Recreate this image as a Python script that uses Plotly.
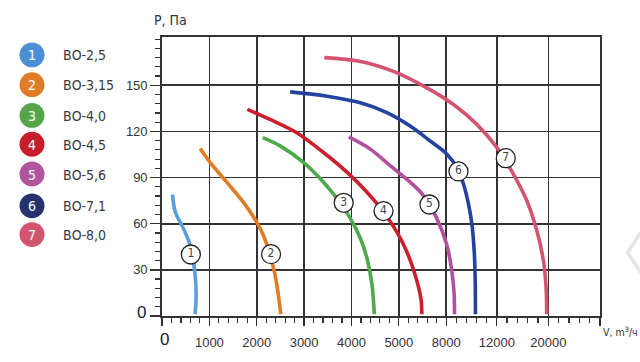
import numpy as np
import plotly.graph_objects as go

# ---------------- data ----------------
X_TICK_VALUES = [0, 1000, 2000, 3000, 4000, 5000, 8000, 12000, 20000]
X_TICK_LABELS = ["", "1000", "2000", "3000", "4000", "5000", "8000", "12000", "20000"]
Y_TICK_VALUES = [0, 30, 60, 90, 120, 150]
Y_TICK_LABELS = ["", "30", "60", "90", "120", "150"]

NAMES = ["ВО-2,5", "ВО-3,15", "ВО-4,0", "ВО-4,5", "ВО-5,6", "ВО-7,1", "ВО-8,0"]

V1 = [223, 279, 454, 595, 664, 706, 721, 700]
P1 = [79, 67.8, 56.8, 46, 35.3, 24.5, 13.8, 1.2]

V2 = [805, 1015, 1367, 1717, 2000, 2140, 2281, 2387, 2456, 2507]
P2 = [108.9, 99.9, 87, 74, 61, 52.5, 39.6, 26.7, 13.8, 1.2]

V3 = [2127, 2493, 2985, 3411, 3696, 3979, 4189, 4329, 4434, 4482]
P3 = [116, 110.6, 99.9, 87, 76.2, 63.3, 50.4, 37.4, 20.2, 1.2]

V4 = [1802, 2281, 2844, 3411, 3909, 4329, 4677, 4958, 5507, 6034, 6395, 6459]
P4 = [134.3, 127.8, 119.2, 106.3, 93.4, 80.5, 67.6, 54.7, 41.8, 26.7, 11.6, 1.2]

V5 = [3943, 4398, 4818, 5717, 6561, 7410, 8055, 8450, 8631, 8655]
P5 = [116.4, 108.5, 97.7, 87, 78.3, 63.3, 46, 28.9, 13.8, 1.2]

V6 = [2704, 3483, 4189, 4748, 5717, 6985, 8055, 8844, 9365, 9759, 10028, 10209, 10288, 10312]
P6 = [145.7, 142.9, 138.6, 132.2, 123.5, 113.8, 105.2, 96.6, 85.8, 72.9, 60, 42.8, 25.6, 1.2]

V7 = [3426, 4189, 4887, 6776, 8576, 10422, 12000, 14574, 16651, 18202, 19225, 19643, 19752]
P7 = [168, 165.5, 159, 148.3, 137.5, 124.6, 109.6, 92.3, 75.1, 55.7, 36.3, 19.2, 1.2]

LABEL_V = [609, 2302, 3836, 4677, 6941, 8970, 13395]
LABEL_P = [40, 40.2, 73.6, 68.2, 72.5, 94, 102.6]

# ---------------- styles ----------------
LINE_COLORS = ["#5a9fdc", "#e07c24", "#4ea94a", "#cc1f2d", "#b24f9e", "#2442a0", "#d4546f"]
DOT_COLORS = ["#4d8fd6", "#e07b27", "#56a54a", "#c81e2b", "#b2549d", "#26336f", "#d2556f"]

# axis tick positions (the source axis is piecewise, cells nearly equal width)
X_TICK_POS = [0, 1, 2, 3, 4, 5, 6, 7.068, 8.156]
X_END = 9.247

def vpos(v):
    return np.interp(np.asarray(v, float), X_TICK_VALUES, X_TICK_POS)

W, H = 640, 362
ML, MR, MT, MB = 162, 40, 37, 44
PW, PH = W - ML - MR, H - MT - MB

def px(x):
    return (x - ML) / PW

def py(y):
    return (H - MB - y) / PH

GRID = "#333333"
FONT_N = "Liberation Sans Narrow, DejaVu Sans Condensed, Arial Narrow, sans-serif"
FONT_T = "Liberation Sans, Arial, sans-serif"

fig = go.Figure()

series = [(V1, P1), (V2, P2), (V3, P3), (V4, P4), (V5, P5), (V6, P6), (V7, P7)]
for i, (v, p) in enumerate(series):
    fig.add_trace(go.Scatter(
        x=vpos(v), y=p, mode="lines",
        line=dict(color=LINE_COLORS[i], width=3.6, shape="spline", smoothing=1.0),
        hoverinfo="skip", showlegend=False))

fig.add_trace(go.Scatter(
    x=vpos(LABEL_V), y=LABEL_P, mode="markers+text",
    marker=dict(size=19, color="white", line=dict(color="#222222", width=1.3)),
    text=[str(i + 1) for i in range(7)], textposition="middle center",
    textfont=dict(family=FONT_N, size=12, color="#444444"),
    hoverinfo="skip", showlegend=False))

minor_x = []
cells = X_TICK_POS + [X_END]
for a, b in zip(cells[:-1], cells[1:]):
    for k in range(1, 5):
        minor_x.append(a + (b - a) * k / 5)

shapes = []
annotations = []
LEG_Y = [55, 85, 116, 145, 175, 207, 236]
R = 12.5
for i, yy in enumerate(LEG_Y):
    shapes.append(dict(type="circle", xref="paper", yref="paper",
                       x0=px(32 - R), x1=px(32 + R), y0=py(yy + R), y1=py(yy - R),
                       fillcolor=DOT_COLORS[i], line=dict(width=0), layer="above"))
    annotations.append(dict(xref="paper", yref="paper", x=px(32), y=py(yy + 0.5),
                            text=str(i + 1), showarrow=False, xanchor="center", yanchor="middle",
                            font=dict(family=FONT_N, size=14, color="white")))
    annotations.append(dict(xref="paper", yref="paper", x=px(61), y=py(yy + 0.5),
                            text=NAMES[i], showarrow=False, xanchor="left", yanchor="middle",
                            font=dict(family=FONT_N, size=14, color="#3a3a3a")))

# zero labels
annotations.append(dict(xref="paper", yref="paper", x=px(141), y=py(314),
                        text="0", showarrow=False, xanchor="center", yanchor="middle",
                        font=dict(family=FONT_T, size=17, color="#222222")))
annotations.append(dict(xref="paper", yref="paper", x=px(164), y=py(342),
                        text="0", showarrow=False, xanchor="center", yanchor="middle",
                        font=dict(family=FONT_T, size=17, color="#222222")))
# axis titles
annotations.append(dict(xref="paper", yref="paper", x=px(152), y=py(20),
                        text="P, Па", showarrow=False, xanchor="left", yanchor="middle",
                        font=dict(family=FONT_N, size=14, color="#333333")))
annotations.append(dict(xref="paper", yref="paper", x=px(601), y=py(334),
                        text="V, m<sup>3</sup>/ч", showarrow=False, xanchor="left", yanchor="middle",
                        font=dict(family=FONT_N, size=10.5, color="#333333")))

# faint chevron at the right edge
shapes.append(dict(type="path", xref="paper", yref="paper",
                   path="M {} {} L {} {} L {} {}".format(px(642), py(232), px(627.5), py(254),
                                                           px(642), py(276)),
                   line=dict(color="#e4e4e4", width=3.5)))

fig.update_layout(
    width=W, height=H, autosize=False,
    margin=dict(l=ML, r=MR, t=MT, b=MB, pad=0),
    paper_bgcolor="white", plot_bgcolor="white",
    showlegend=False,
    shapes=shapes, annotations=annotations,
    xaxis=dict(range=[0, X_END], tickmode="array",
               tickvals=X_TICK_POS + [X_END], ticktext=X_TICK_LABELS + [""],
               showgrid=True, gridcolor=GRID, gridwidth=1.6,
               zeroline=False, showline=True, linecolor=GRID, linewidth=1.8, mirror=True,
               ticks="outside", ticklen=8, tickwidth=1.3, tickcolor=GRID,
               ticklabelstandoff=6,
               tickfont=dict(family=FONT_T, size=13, color="#333333"),
               minor=dict(tickmode="array", tickvals=minor_x, ticks="outside",
                          ticklen=5, tickwidth=1.2, tickcolor=GRID, showgrid=False),
               fixedrange=True),
    yaxis=dict(range=[0, 181.4], tickmode="array",
               tickvals=Y_TICK_VALUES, ticktext=Y_TICK_LABELS,
               showgrid=True, gridcolor=GRID, gridwidth=1.6,
               zeroline=False, showline=True, linecolor=GRID, linewidth=1.8, mirror=True,
               ticks="outside", ticklen=10, tickwidth=1.3, tickcolor=GRID,
               tickfont=dict(family=FONT_T, size=13, color="#333333"),
               minor=dict(tick0=0, dtick=6, ticks="outside",
                          ticklen=5, tickwidth=1.2, tickcolor=GRID, showgrid=False),
               fixedrange=True),
)

fig.write_html("out.html", config={"staticPlot": True},
               post_script="document.body.style.margin='0';document.body.style.overflow='hidden';")
